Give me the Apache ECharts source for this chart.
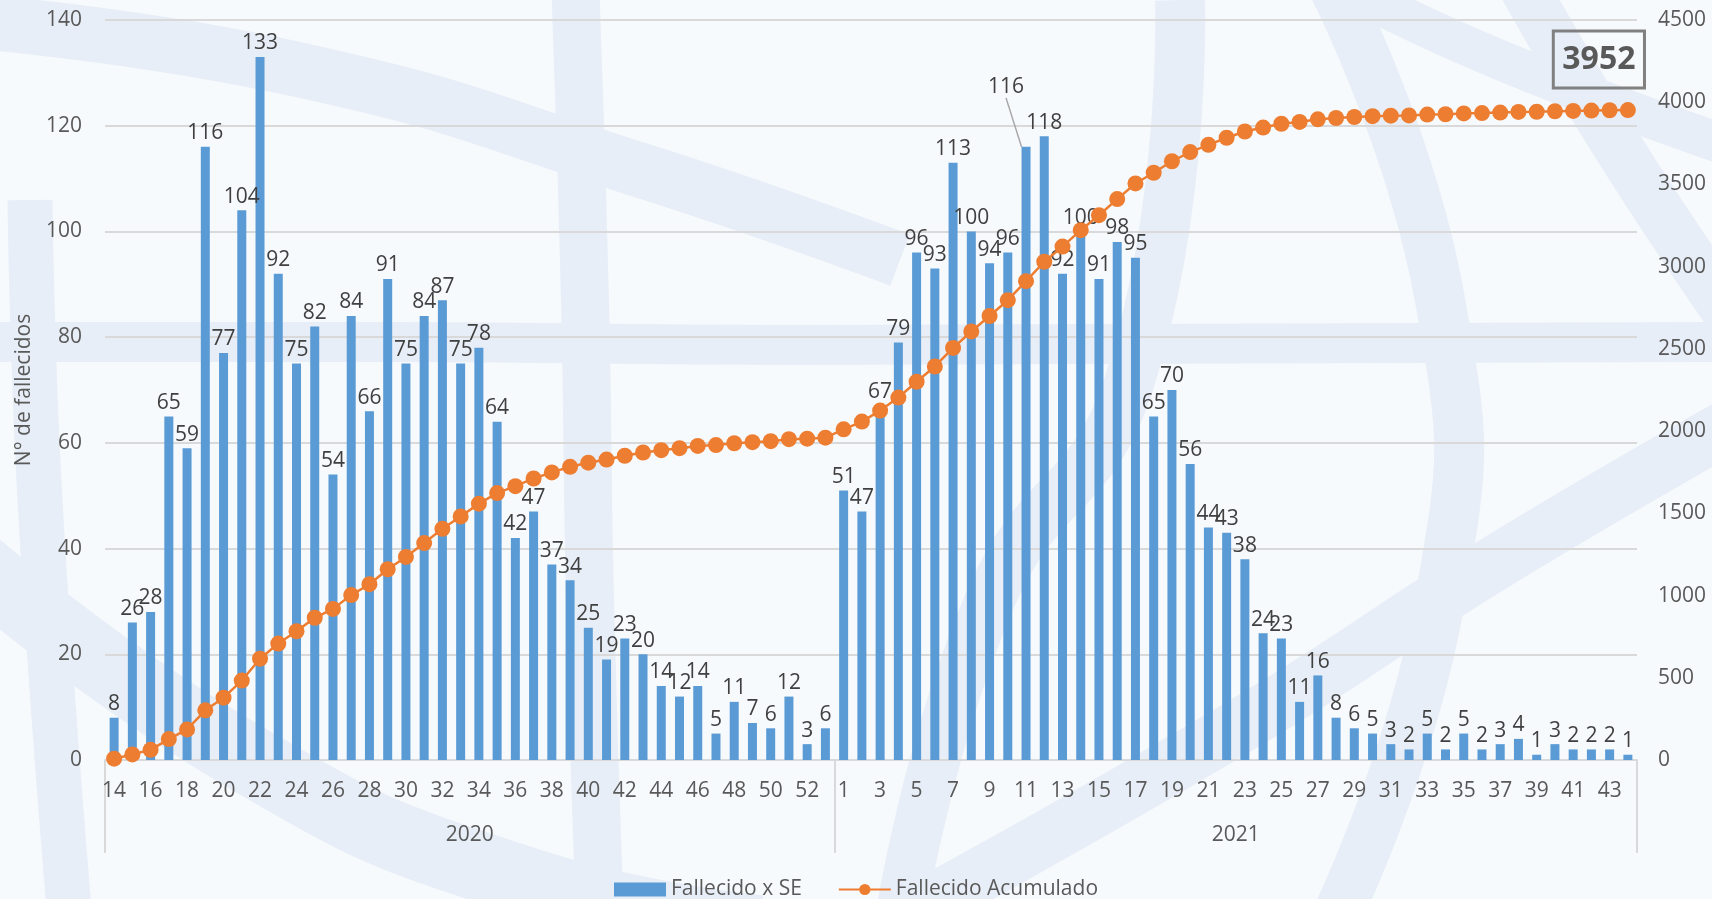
<!DOCTYPE html>
<html>
<head>
<meta charset="utf-8">
<script src="https://cdn.jsdelivr.net/npm/echarts@6/dist/echarts.min.js"></script>
<style>
  html, body { margin: 0; padding: 0; background: #f7fafd; }
  #chart { width: 1712px; height: 899px; }
</style>
</head>
<body>
<div id="chart"></div>
<script>
// Epidemiological weeks: 2020 (SE 14–53) and 2021 (SE 1–44)
const weeks2020 = [14,15,16,17,18,19,20,21,22,23,24,25,26,27,28,29,30,31,32,33,
                   34,35,36,37,38,39,40,41,42,43,44,45,46,47,48,49,50,51,52,53];
const weeks2021 = [1,2,3,4,5,6,7,8,9,10,11,12,13,14,15,16,17,18,19,20,21,22,
                   23,24,25,26,27,28,29,30,31,32,33,34,35,36,37,38,39,40,41,42,43,44];
const years = ['2020', '2021'];

// Deaths per epidemiological week
const deaths2020 = [8,26,28,65,59,116,77,104,133,92,75,82,54,84,66,91,75,84,87,75,
                    78,64,42,47,37,34,25,19,23,20,14,12,14,5,11,7,6,12,3,6];
const deaths2021 = [51,47,67,79,96,93,113,100,94,96,116,118,92,100,91,98,95,65,70,56,44,43,
                    38,24,23,11,16,8,6,5,3,2,5,2,5,2,3,4,1,3,2,2,2,1];

// Accumulated deaths
const cumulative2020 = [8,34,62,127,186,302,379,483,616,708,783,865,919,1003,1069,1160,1235,1319,1406,1481,
                        1559,1623,1665,1712,1749,1783,1808,1827,1850,1870,1884,1896,1910,1915,1926,1933,1939,1951,1954,1960];
const cumulative2021 = [2011,2058,2125,2204,2300,2393,2506,2606,2700,2796,2912,3030,3122,3222,3313,3411,3506,3571,3641,3697,3741,3784,
                        3822,3846,3869,3880,3896,3904,3910,3915,3918,3920,3925,3927,3932,3934,3937,3941,3942,3945,3947,3949,3951,3952];

const seriesNames = ['Fallecido x SE', 'Fallecido Acumulado'];
const leftTicks = { min: 0, max: 140, step: 20 };
const rightTicks = { min: 0, max: 4500, step: 500 };

const categories = weeks2020.concat(weeks2021).map(String);
const weekly = deaths2020.concat(deaths2021);
const accumulated = cumulative2020.concat(cumulative2021);
const n2020 = weeks2020.length;
const nAll = categories.length;
const movedLabelIndex = n2020 + 10;   // SE 11 of 2021, label lifted with a guide line

const FONT = '"Open Sans", "Liberation Sans", sans-serif';
const FS = 21;
const TXT = '#595959';
const BAND = '#e8eef7';

// Pale emblem in the background, drawn as broad strokes
function band(points, width) {
  return {
    type: 'polyline', silent: true, z: -10,
    shape: { points: points, smooth: 0.5 },
    style: { stroke: BAND, lineWidth: width, fill: null, lineCap: 'butt' }
  };
}
const watermark = [
  band([[-40, 20], [300, 70], [640, 170], [900, 260]], 55),
  band([[575, -20], [585, 300], [590, 600], [600, 920]], 48),
  band([[-20, 342], [400, 342], [800, 345], [1712, 342]], 40),
  band([[-30, 560], [250, 760], [520, 880], [760, 930]], 70),
  band([[1330, -20], [1440, 300], [1440, 600], [1330, 930]], 50),
  band([[880, 930], [1250, 720], [1500, 560], [1740, 420]], 55),
  band([[1520, -20], [1620, 150], [1740, 330]], 50),
  band([[1330, -20], [1500, 60], [1740, 150]], 40),
  band([[30, 200], [40, 500], [70, 920]], 45),
  band([[900, 920], [990, 600], [1130, 380], [1180, 0]], 50)
];

const chart = echarts.init(document.getElementById('chart'));

chart.setOption({
  backgroundColor: '#f7fafd',
  animation: false,
  textStyle: { fontFamily: FONT },
  graphic: watermark,
  grid: { left: 105, right: 75, top: 20, bottom: 139, containLabel: false },
  legend: {
    top: 874,
    left: 'center',
    itemWidth: 52,
    itemHeight: 14,
    itemGap: 36,
    textStyle: { fontFamily: FONT, fontSize: FS, color: TXT },
    data: [
      { name: seriesNames[0], icon: 'rect' },
      { name: seriesNames[1] }
    ]
  },
  xAxis: [
    {
      type: 'category',
      data: categories,
      boundaryGap: true,
      axisLine: { show: true, lineStyle: { color: '#d9d9d9', width: 2 } },
      axisTick: { show: false },
      axisLabel: { interval: 1, fontFamily: FONT, fontSize: FS, color: TXT, margin: 21 },
      splitLine: { show: false }
    },
    {
      // Year grouping row under the week labels
      type: 'value',
      position: 'bottom',
      offset: 0,
      min: 0,
      max: nAll,
      axisLine: { show: false },
      axisTick: {
        show: true, inside: false, length: 93,
        customValues: [0, n2020, nAll],
        lineStyle: { color: '#d9d9d9', width: 2 }
      },
      axisLabel: {
        show: true, margin: 65, fontFamily: FONT, fontSize: FS, color: TXT,
        customValues: [n2020 / 2, n2020 + (nAll - n2020) / 2],
        formatter: function (v) { return v < n2020 ? years[0] : years[1]; }
      },
      splitLine: { show: false }
    }
  ],
  yAxis: [
    {
      type: 'value',
      min: leftTicks.min, max: leftTicks.max, interval: leftTicks.step,
      name: 'N° de fallecidos',
      nameLocation: 'middle',
      nameGap: 70,
      nameRotate: 90,
      nameTextStyle: { fontFamily: FONT, fontSize: FS, color: TXT },
      axisLine: { show: false },
      axisTick: { show: false },
      axisLabel: { fontFamily: FONT, fontSize: FS, color: TXT, margin: 23 },
      splitLine: { show: true, lineStyle: { color: '#d9d9d9', width: 2 } }
    },
    {
      type: 'value',
      min: rightTicks.min, max: rightTicks.max, interval: rightTicks.step,
      position: 'right',
      axisLine: { show: false },
      axisTick: { show: false },
      axisLabel: {
        fontFamily: FONT, fontSize: FS, color: TXT, margin: 21,
        formatter: function (v) { return String(v); }
      },
      splitLine: { show: false }
    }
  ],
  series: [
    {
      name: seriesNames[0],
      type: 'bar',
      xAxisIndex: 0,
      yAxisIndex: 0,
      barWidth: 9,
      itemStyle: { color: '#5b9bd5' },
      label: {
        show: true, position: 'top', distance: 3,
        fontFamily: FONT, fontSize: FS, color: '#404040'
      },
      labelLayout: function (p) {
        if (p.dataIndex === movedLabelIndex) return { dx: -20, dy: -46 };
        return {};
      },
      data: weekly.map(function (v, i) {
        if (i === movedLabelIndex) {
          return { value: v, labelLine: { show: true, lineStyle: { color: '#a6a6a6', width: 1.5 } } };
        }
        return v;
      }),
      z: 2
    },
    {
      name: seriesNames[1],
      type: 'line',
      xAxisIndex: 0,
      yAxisIndex: 1,
      symbol: 'circle',
      symbolSize: 16,
      showSymbol: true,
      showAllSymbol: true,
      lineStyle: { color: '#ed7d31', width: 2.5 },
      itemStyle: { color: '#ed7d31' },
      data: accumulated.map(function (v, i) {
        if (i === nAll - 1) {
          return {
            value: v,
            label: {
              show: true, position: 'top', distance: 14, offset: [-29, 0],
              fontFamily: FONT, fontSize: 32, fontWeight: 'bold', color: TXT,
              lineHeight: 36, padding: [11, 9, 10, 9],
              borderColor: '#808080', borderWidth: 1.5,
              backgroundColor: 'transparent'
            }
          };
        }
        return v;
      }),
      z: 3
    }
  ]
});
</script>
</body>
</html>
